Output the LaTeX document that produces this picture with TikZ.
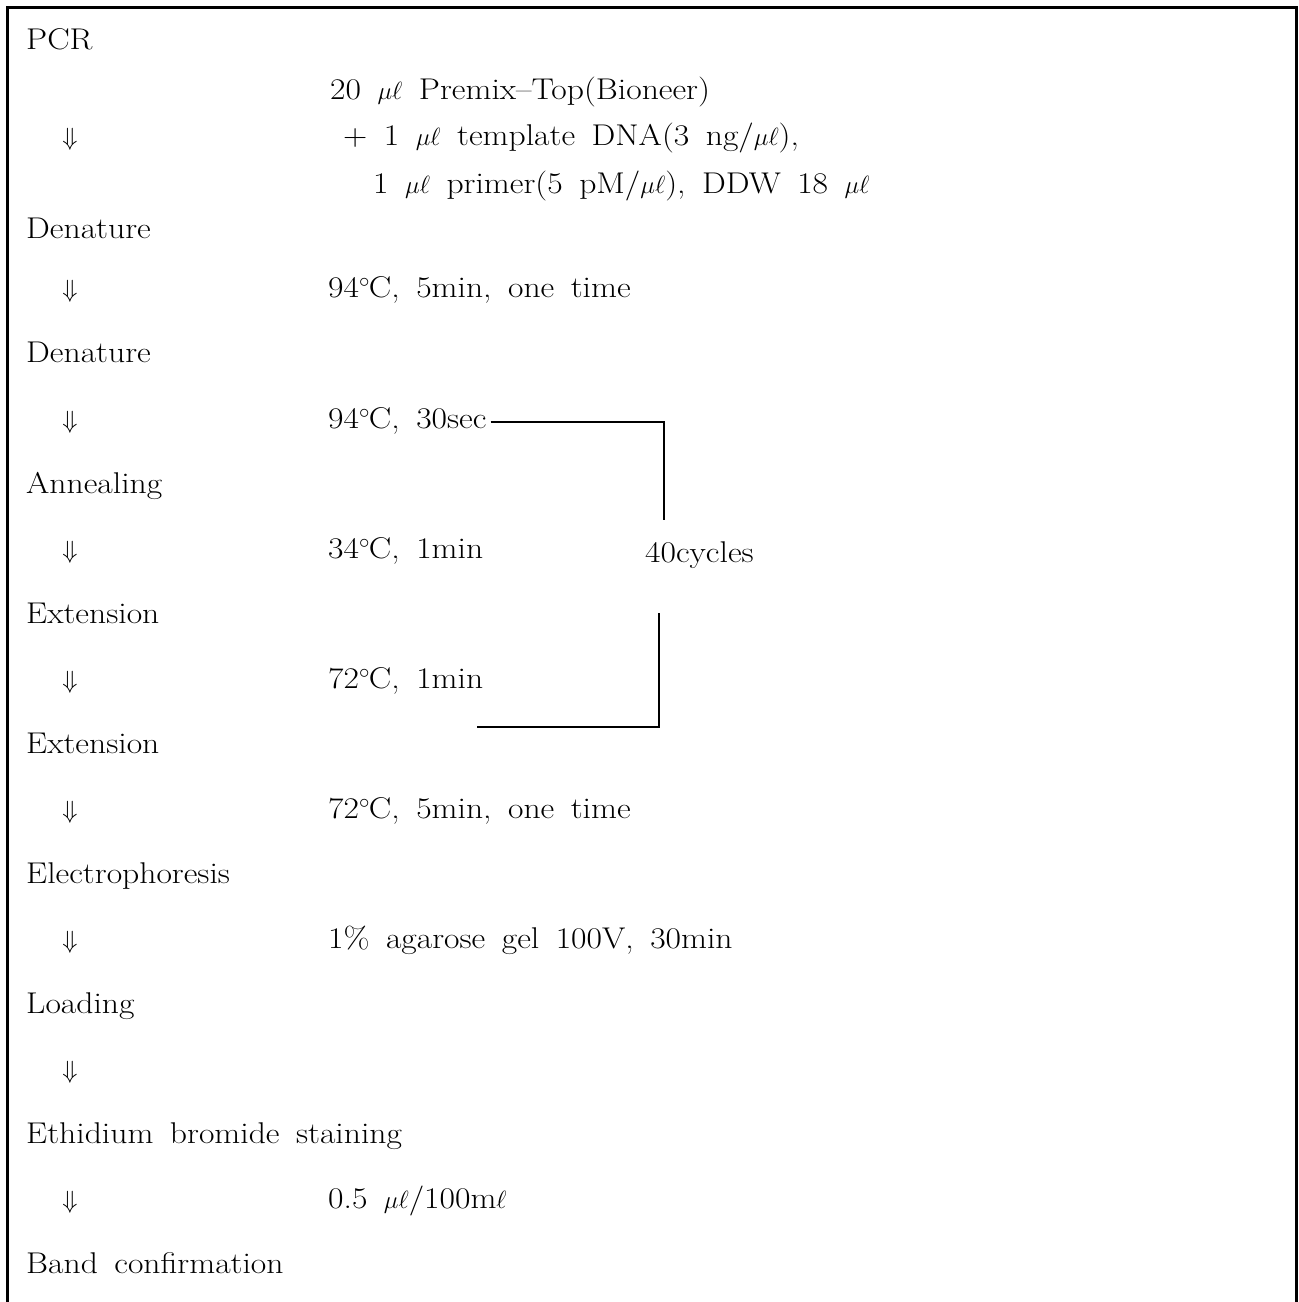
\documentclass[tikz,border=0pt]{standalone}
\usepackage{fontspec}
\setmainfont{Latin Modern Roman}[FakeStretch=1.12]
\newcommand\dgc{$^{\circ}$\kern-1pt C}
\newcommand\ul{$\mu\ell$}
\newcommand\myfont{\fontsize{30}{36}\selectfont\spaceskip=0.55em\relax}
\begin{document}
\begin{tikzpicture}[x=1pt,y=-1pt,
  txt/.style={anchor=base west,inner sep=0pt,font=\myfont},
  arr/.style={anchor=base,inner sep=0pt,font=\myfont},
  frame/.style={line width=3pt},
  brk/.style={line width=1.1pt}]
\useasboundingbox (0,0) rectangle (1299,1302);
\draw[frame] (7.5,1302) -- (7.5,7.5) -- (1296.5,7.5) -- (1296.5,1302);
% left column
\node[txt] (pcr) at (26,49) {PCR};
\node[txt] (den1) at (26,238) {Denature};
\node[txt] (den2) at (26,362) {Denature};
\node[txt] (ann) at (26,493) {Annealing};
\node[txt] (ext1) at (26,623) {Extension};
\node[txt] (ext2) at (26,753) {Extension};
\node[txt] (elec) at (26,883) {Electrophoresis};
\node[txt] (load) at (26,1013) {Loading};
\node[txt] (eth) at (26,1143) {Ethidium bromide staining};
\node[txt] (band) at (26,1273) {Band confirmation};
% arrows
\node[arr] (a1) at (70,145) {$\Downarrow$};
\node[arr] (a2) at (70,297) {$\Downarrow$};
\node[arr] (a3) at (70,428) {$\Downarrow$};
\node[arr] (a4) at (70,558) {$\Downarrow$};
\node[arr] (a5) at (70,688) {$\Downarrow$};
\node[arr] (a6) at (70,818) {$\Downarrow$};
\node[arr] (a7) at (70,948) {$\Downarrow$};
\node[arr] (a8) at (70,1078) {$\Downarrow$};
\node[arr] (a9) at (70,1208) {$\Downarrow$};
% conditions
\node[txt] (c1) at (330,99) {20 \ul\ Premix--Top(Bioneer)};
\node[txt] (c2) at (343,145) {+ 1 \ul\ template DNA(3 ng/\ul),};
\node[txt] (c3) at (373,193) {1 \ul\ primer(5 pM/\ul), DDW 18 \ul};
\node[txt] (c4) at (328,297) {94\dgc, 5min, one time};
\node[txt] (c5) at (328,428) {94\dgc, 30sec};
\node[txt] (c6) at (328,558) {34\dgc, 1min};
\node[txt] (cyc) at (645,562) {40cycles};
\node[txt] (c7) at (328,688) {72\dgc, 1min};
\node[txt] (c8) at (328,818) {72\dgc, 5min, one time};
\node[txt] (c9) at (328,948) {1\% agarose gel 100V, 30min};
\node[txt] (c10) at (328,1208) {0.5 \ul/100m$\ell$};
% cycle bracket
\coordinate (b1top) at (664,422);
\coordinate (b1bot) at (664,520);
\draw[brk] ([xshift=4pt]c5.east |- b1top) -- (b1top) -- (b1bot);
\coordinate (b2top) at (659,613);
\coordinate (b2cor) at (659,727);
\coordinate (b2left) at (477,727);
\draw[brk] (b2top) -- (b2cor) -- (b2left);
\end{tikzpicture}
\end{document}
